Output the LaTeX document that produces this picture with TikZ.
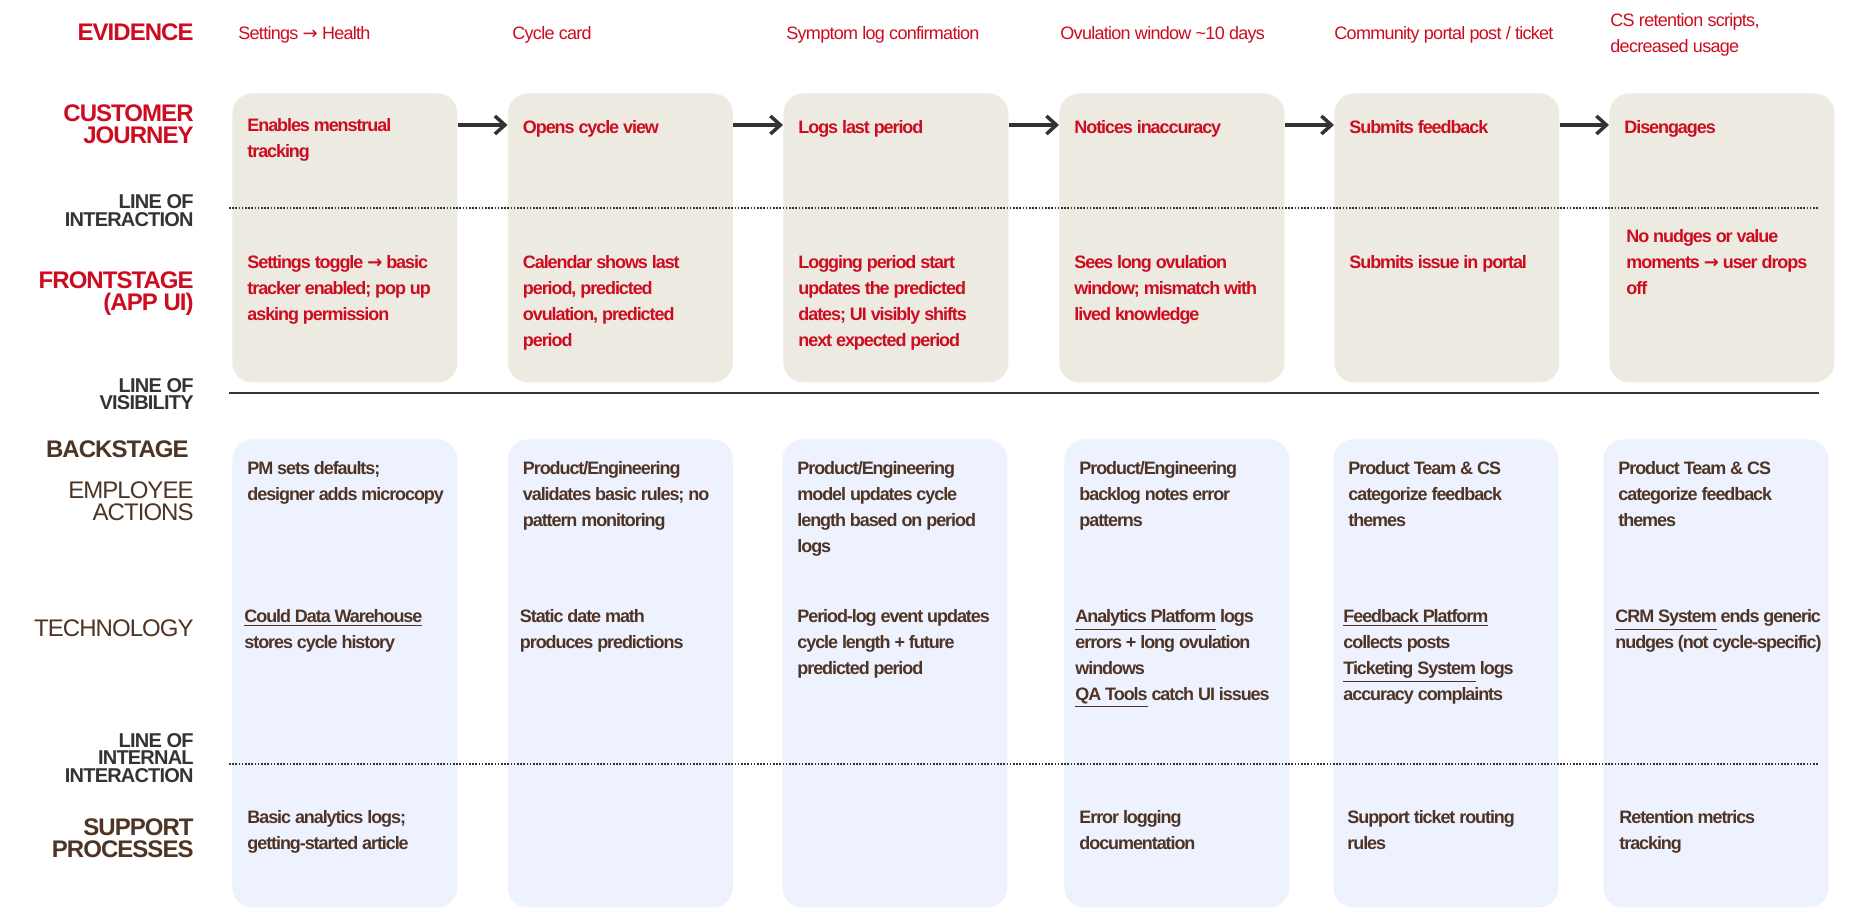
\documentclass[tikz,border=0pt]{standalone}
\usepackage{fontspec}
\setmainfont[LetterSpace=-4]{Liberation Sans}
\newfontfamily\tightfont[LetterSpace=-6]{Liberation Sans}
\newfontfamily\arrowfont{DejaVu Sans}
\newcommand{\rarr}{{\arrowfont →}}
\usetikzlibrary{arrows.meta,positioning}

\definecolor{evred}{RGB}{206,12,32}
\definecolor{brownink}{RGB}{78,52,36}
\definecolor{linegray}{RGB}{51,51,51}
\definecolor{sandfill}{RGB}{237,234,226}
\definecolor{bluefill}{RGB}{238,242,254}

\begin{document}
\begin{tikzpicture}[x=0.5pt, y=-0.5pt,
	sandbox/.style={rectangle, fill=sandfill, rounded corners=10pt, anchor=north west, inner sep=0pt, minimum width=112.5pt, minimum height=144.5pt},
	bluebox/.style={rectangle, fill=bluefill, rounded corners=10pt, anchor=north west, inner sep=0pt, minimum width=112.5pt, minimum height=234pt},
	rowlabel/.style={anchor=east, inner sep=0pt, align=right, font=\bfseries\fontsize{12pt}{11pt}\selectfont},
	linelabel/.style={anchor=east, inner sep=0pt, align=right, text=linegray, font=\bfseries\fontsize{10pt}{8.75pt}\selectfont},
	sublabel/.style={anchor=east, inner sep=0pt, align=right, text=brownink, font=\fontsize{12pt}{11pt}\selectfont},
	evtext/.style={anchor=north west, inner sep=0pt, align=left, text=evred, font=\fontsize{9pt}{13pt}\selectfont},
	redtext/.style={anchor=north west, inner sep=0pt, align=left, text=evred, font=\tightfont\bfseries\fontsize{9pt}{13pt}\selectfont},
	browntext/.style={redtext, text=brownink},
	dotline/.style={draw=linegray, line width=1pt, dash pattern=on 0.8pt off 0.8pt},
	solidline/.style={draw=linegray, line width=1pt},
	flow/.style={draw=linegray, line width=1.75pt, -{Straight Barb[length=5pt,width=9pt]}},
	]

	\fill[white] (0,0) rectangle (1850,921);
	\useasboundingbox (0,0) rectangle (1850,921);

	%Boxes
	\foreach \x [count=\i] in {232,507.5,783,1059,1334,1609}
		\node[sandbox] (j\i) at (\x,93) {};
	\foreach \x [count=\i] in {232,507.5,782,1064,1333,1603}
		\node[bluebox] (b\i) at (\x,439) {};

	%Lines
	\draw[dotline] (229,208) -- (1818,208);
	\draw[solidline] (229,393) -- (1819,393);
	\draw[dotline] (229,764) -- (1818,764);

	%Arrows
	\foreach \i [remember=\i as \prev (initially 1)] in {2,...,6}
		\draw[flow] ([yshift=-16pt]j\prev.north east) -- ([yshift=-16pt]j\i.north west);

	%Row labels
	\node[rowlabel, text=evred]    (evidence)    at (194,32)    {EVIDENCE};
	\node[rowlabel, text=evred]    (journey)     at (194,124)   {CUSTOMER\\JOURNEY};
	\node[linelabel]               (interaction) at (194,210.5) {LINE OF\\INTERACTION};
	\node[rowlabel, text=evred]    (frontstage)  at (194,294)   {FRONTSTAGE\\(APP UI)};
	\node[linelabel]               (visibility)  at (194,394)   {LINE OF\\VISIBILITY};
	\node[rowlabel, text=brownink] (backstage)   at (189,449)   {BACKSTAGE};
	\node[sublabel]                (employee)    at (194,501)   {EMPLOYEE\\ACTIONS};
	\node[sublabel]                (technology)  at (194,628)   {TECHNOLOGY};
	\node[linelabel]               (internal)    at (194,758)   {LINE OF\\INTERNAL\hspace*{2pt}\\INTERACTION};
	\node[rowlabel, text=brownink] (support)     at (194,838)   {SUPPORT\\PROCESSES};

	%Evidence
	\node[evtext] (ev1) at (238,26)  {Settings \rarr{} Health};
	\node[evtext] (ev2) at (512,26)  {Cycle card};
	\node[evtext] (ev3) at (786,26)  {Symptom log confirmation};
	\node[evtext] (ev4) at (1060,26) {Ovulation window \textasciitilde10 days};
	\node[evtext] (ev5) at (1334,26) {Community portal post / ticket};
	\node[evtext] (ev6) at (1610,13) {CS retention scripts,\\decreased usage};

	%Customer journey
	\node[redtext] (cj1) at ([shift={(15,25)}]j1.north west) {Enables menstrual\\tracking};
	\node[redtext] (cj2) at ([shift={(15,27)}]j2.north west) {Opens cycle view};
	\node[redtext] (cj3) at ([shift={(15,27)}]j3.north west) {Logs last period};
	\node[redtext] (cj4) at ([shift={(15,27)}]j4.north west) {Notices inaccuracy};
	\node[redtext] (cj5) at ([shift={(15,27)}]j5.north west) {Submits feedback};
	\node[redtext] (cj6) at ([shift={(15,27)}]j6.north west) {Disengages};

	%Frontstage
	\node[redtext] (fs1) at ([shift={(15,162)}]j1.north west) {Settings toggle \rarr{} basic\\tracker enabled; pop up\\asking permission};
	\node[redtext] (fs2) at ([shift={(15,162)}]j2.north west) {Calendar shows last\\period, predicted\\ovulation, predicted\\period};
	\node[redtext] (fs3) at ([shift={(15,162)}]j3.north west) {Logging period start\\updates the predicted\\dates; UI visibly shifts\\next expected period};
	\node[redtext] (fs4) at ([shift={(15,162)}]j4.north west) {Sees long ovulation\\window; mismatch with\\lived knowledge};
	\node[redtext] (fs5) at ([shift={(15,162)}]j5.north west) {Submits issue in portal};
	\node[redtext] (fs6) at ([shift={(17,136)}]j6.north west) {No nudges or value\\moments \rarr{} user drops\\off};

	%Employee actions
	\node[browntext] (ea1) at ([shift={(15,22)}]b1.north west) {PM sets defaults;\\designer adds microcopy};
	\node[browntext] (ea2) at ([shift={(15,22)}]b2.north west) {Product/Engineering\\validates basic rules; no\\pattern monitoring};
	\node[browntext] (ea3) at ([shift={(15,22)}]b3.north west) {Product/Engineering\\model updates cycle\\length based on period\\logs};
	\node[browntext] (ea4) at ([shift={(15,22)}]b4.north west) {Product/Engineering\\backlog notes error\\patterns};
	\node[browntext] (ea5) at ([shift={(15,22)}]b5.north west) {Product Team \& CS\\categorize feedback\\themes};
	\node[browntext] (ea6) at ([shift={(15,22)}]b6.north west) {Product Team \& CS\\categorize feedback\\themes};

	%Technology
	\node[browntext] (te1) at ([shift={(12,170)}]b1.north west) {\underline{Could Data Warehouse}\\stores cycle history};
	\node[browntext] (te2) at ([shift={(12,170)}]b2.north west) {Static date math\\produces predictions};
	\node[browntext] (te3) at ([shift={(15,170)}]b3.north west) {Period-log event updates\\cycle length + future\\predicted period};
	\node[browntext] (te4) at ([shift={(11,170)}]b4.north west) {\underline{Analytics Platform} logs\\errors + long ovulation\\windows\\\underline{QA Tools} catch UI issues};
	\node[browntext] (te5) at ([shift={(10,170)}]b5.north west) {\underline{Feedback Platform}\\collects posts\\\underline{Ticketing System} logs\\accuracy complaints};
	\node[browntext] (te6) at ([shift={(12,170)}]b6.north west) {\underline{CRM System} ends generic\\nudges (not cycle-specific)};

	%Support processes
	\node[browntext] (sp1) at ([shift={(15,371)}]b1.north west) {Basic analytics logs;\\getting-started article};
	\node[browntext] (sp4) at ([shift={(15,371)}]b4.north west) {Error logging\\documentation};
	\node[browntext] (sp5) at ([shift={(14,371)}]b5.north west) {Support ticket routing\\rules};
	\node[browntext] (sp6) at ([shift={(16,371)}]b6.north west) {Retention metrics\\tracking};

\end{tikzpicture}
\end{document}
